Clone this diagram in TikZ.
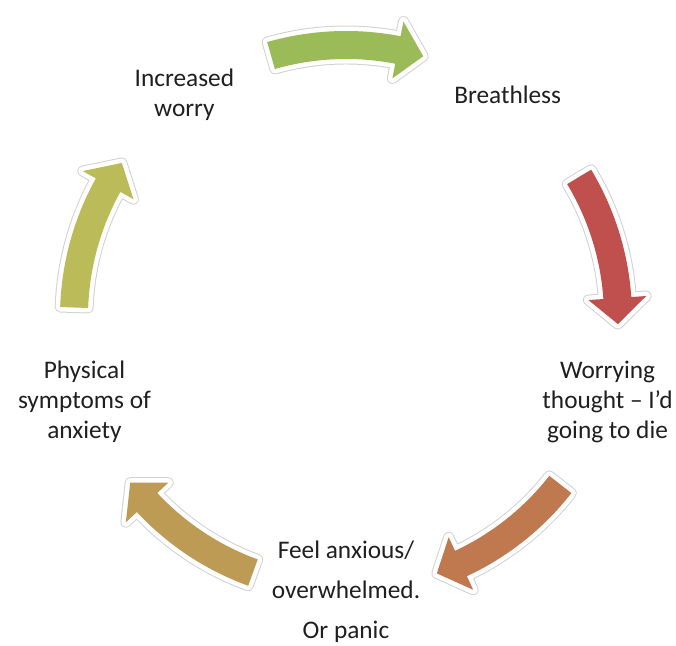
\documentclass[tikz,border=0pt]{standalone}
\usepackage{fontspec}
\setmainfont{Carlito}

\definecolor{arrowgreen}{HTML}{9BBB59}
\definecolor{arrowred}{HTML}{C0504D}
\definecolor{arroworange}{HTML}{C0784F}
\definecolor{arrowgold}{HTML}{BE9B55}
\definecolor{arrowolive}{HTML}{BBBB5A}

\tikzset{
  cycletext/.style={align=center, text=black!88, font=\fontsize{18}{21.3}\selectfont},
  arrowrim/.style={draw=black!18, line width=7.8pt, line join=round},
  arrowglow/.style={draw=white, line width=6.4pt, line join=round},
}

% curved block arrow round the centre, #1 = middle angle
\newcommand{\arcarrow}[1]{({#1+16}:258) arc[start angle={#1+16}, end angle={#1-11}, radius=258]
  -- ({#1-11}:243) -- ({#1-16.5}:272) -- ({#1-11}:301) -- ({#1-11}:286)
  arc[start angle={#1-11}, end angle={#1+16}, radius=286] -- cycle}

\begin{document}
\begin{tikzpicture}[x=0.025cm, y=0.025cm]
\useasboundingbox (0,0) rectangle (676,645);
\begin{scope}[shift={(346,328)}]
\node[cycletext, font=\fontsize{18}{28.5}\selectfont] (feel) at (-90:275) {Feel anxious/\\overwhelmed.\\Or panic};
\node[cycletext] (worrying) at (-18:275) {Worrying\\thought – I’d\\going to die};
\node[cycletext] (breathless) at (54:275) {Breathless};
\node[cycletext] (increased) at (126:275) {Increased\\worry};
\node[cycletext] (physical) at (198:275) {Physical\\symptoms of\\anxiety};

% arrows of the cycle
\foreach \ang/\col in {90/arrowgreen, 15/arrowred, -54/arroworange, -126/arrowgold, 162/arrowolive} {
  \path[arrowrim] \arcarrow{\ang};
  \path[arrowglow] \arcarrow{\ang};
  \path[fill=\col] \arcarrow{\ang};
}
\end{scope}
\end{tikzpicture}
\end{document}
